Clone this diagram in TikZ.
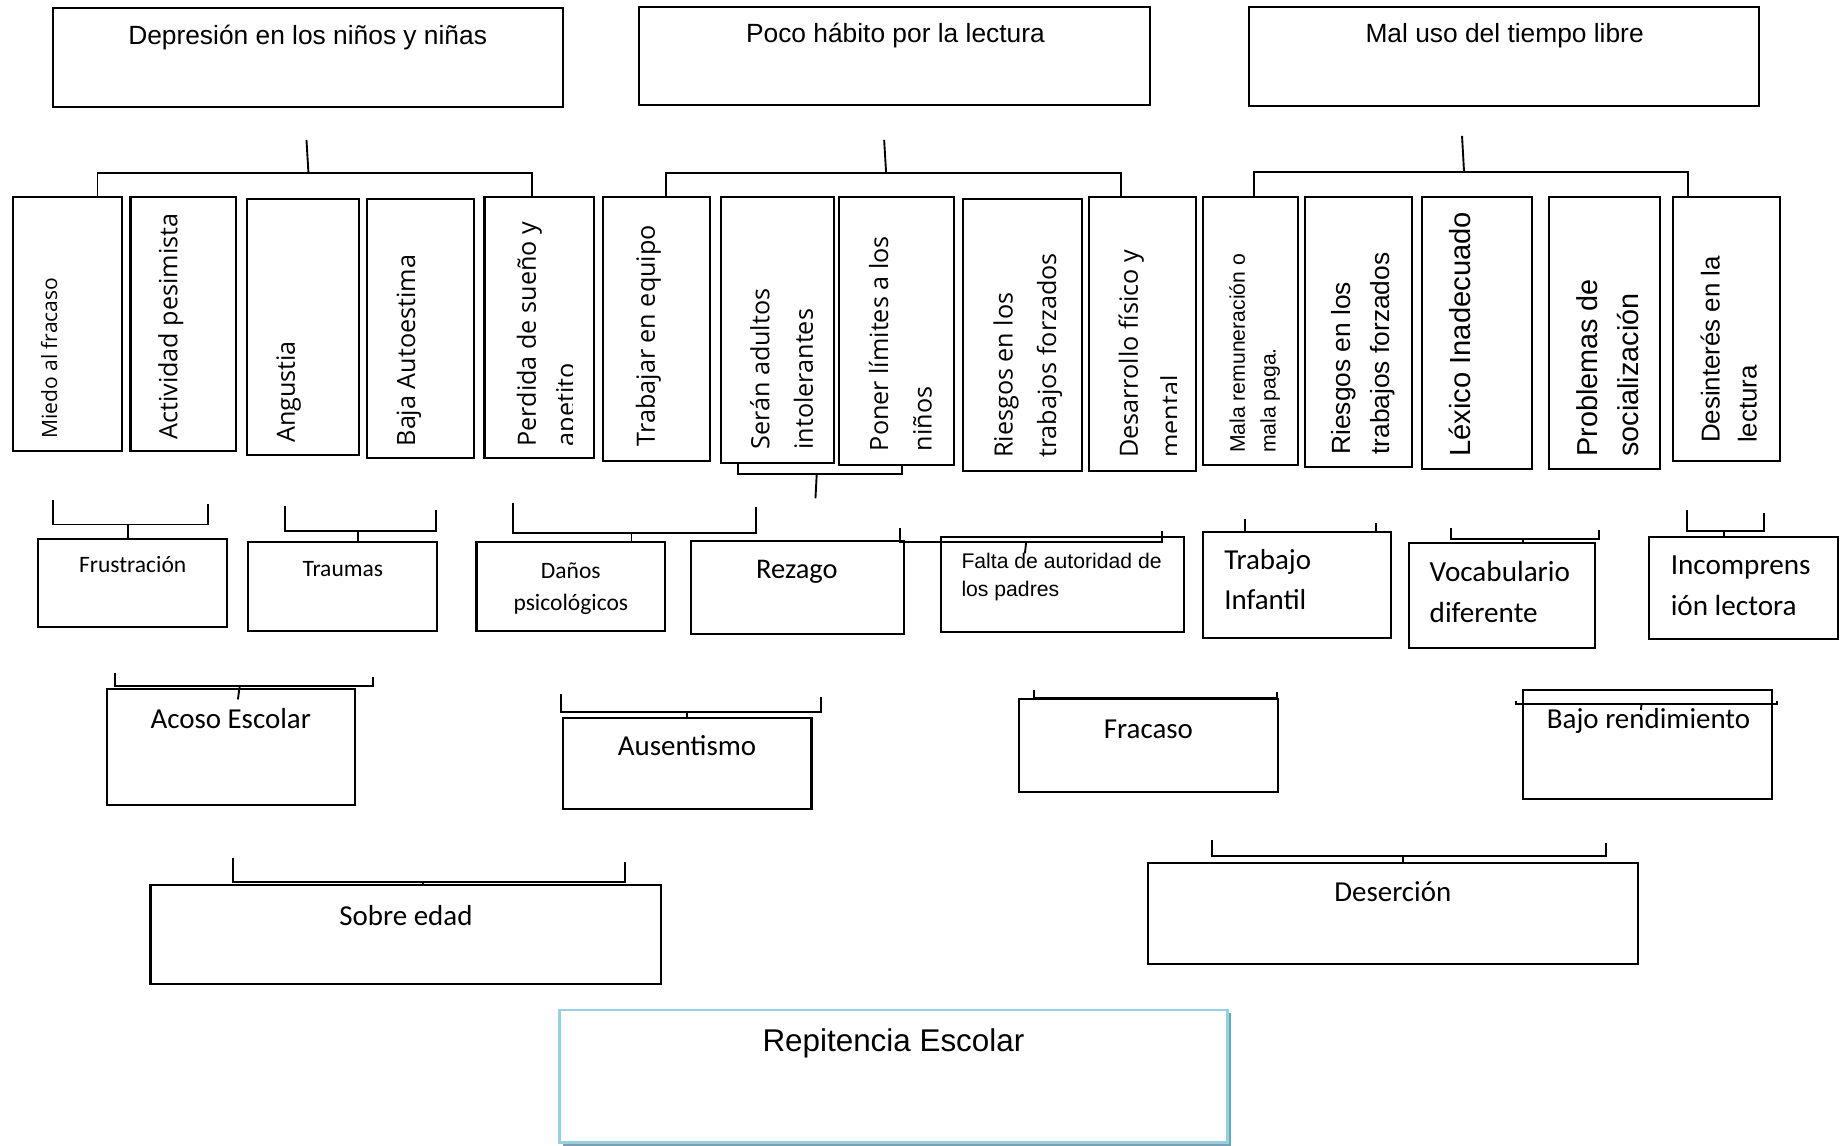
\documentclass[tikz,border=0pt]{standalone}
\usepackage{fontspec}
\setmainfont{Liberation Sans}
\newfontfamily\calibri{Carlito}
\newfontfamily\opensans{Open Sans}
\usetikzlibrary{fit,shadows}
\definecolor{celeste}{RGB}{155,207,223}
\definecolor{sombra}{RGB}{120,160,178}

\begin{document}
\begin{tikzpicture}[x=0.5pt,y=0.5pt,yscale=-1,
    caja/.style={draw, line width=0.9pt, inner sep=0pt},
    linea/.style={line width=0.8pt},
    vert/.style={rotate=90, anchor=west, inner sep=0pt, align=left},
    texto/.style={anchor=base, inner sep=0pt},
    bloque/.style={anchor=west, inner sep=0pt, align=left}]
\useasboundingbox (0,0) rectangle (1568,974);

\node[caja, fit={(44.7,7.1) (478.5,91.3)}] (depresion) {};
\node[caja, fit={(543.4,5.7) (977.7,89.6)}] (habito) {};
\node[caja, fit={(1062.1,5.7) (1496,90.1)}] (tiempo) {};
\node[texto, font=\fontsize{11.2}{13}\selectfont] (depresionT) at (261.6,37.7) {Depresión en los niños y niñas};
\node[texto, font=\fontsize{11.2}{13}\selectfont] (habitoT) at (761.4,36.3) {Poco hábito por la lectura};
\node[texto, font=\fontsize{11.2}{13}\selectfont] (tiempoT) at (1279.4,36.3) {Mal uso del tiempo libre};

\node[caja, fit={(11,167.2) (103.5,383.2)}] (miedo) {};
\node[caja, fit={(111,167.2) (200.6,383.2)}] (actividad) {};
\node[caja, fit={(210,169.2) (305,386.9)}] (angustia) {};
\node[caja, fit={(312,169.2) (403,389.7)}] (baja) {};
\node[caja, fit={(412,167.2) (505,389.7)}] (perdida) {};
\node[caja, fit={(512.9,167.2) (603.7,391.7)}] (equipo) {};
\node[caja, fit={(612.8,167.2) (709.3,393.4)}] (adultos) {};
\node[caja, fit={(713.3,167.2) (811.1,395.4)}] (limites) {};
\node[caja, fit={(818.9,169.2) (920.4,400.2)}] (riesgos) {};
\node[caja, fit={(926.1,167.2) (1017.3,400.2)}] (desarrollo) {};
\node[caja, fit={(1023.2,167.2) (1103.5,395.4)}] (mala) {};
\node[caja, fit={(1109.4,167.2) (1200.9,396.8)}] (riesgosdos) {};
\node[caja, fit={(1209,167.2) (1302.6,398.5)}] (lexico) {};
\node[caja, fit={(1316.9,167.2) (1411.6,398.5)}] (problemas) {};
\node[caja, fit={(1422.4,167.2) (1513.9,392)}] (desinteres) {};

\node[vert, font=\opensans\fontsize{8.95}{12}\selectfont] (miedoT) at (41.8,373.6) {Miedo al fracaso};
\node[vert, font=\opensans\fontsize{10.7}{17}\selectfont] (actividadT) at (145.2,374.2) {Actividad pesimista};
\node[vert, font=\opensans\fontsize{10.7}{17}\selectfont] (angustiaT) at (245.4,377) {Angustia};
\node[vert, font=\opensans\fontsize{10.7}{17}\selectfont] (bajaT) at (347.6,379.9) {Baja Autoestima};
\begin{scope}
\clip (perdida.north west) rectangle (487,389.7);
\node[vert, font=\opensans\fontsize{10.7}{16.5}\selectfont] (perdidaT) at (466.6,379.9) {Perdida de sueño y\\apetito};
\end{scope}
\node[vert, font=\opensans\fontsize{10.7}{17}\selectfont] (equipoT) at (551.2,379.8) {Trabajar en equipo};
\node[vert, font=\opensans\fontsize{10.7}{18.5}\selectfont] (adultosT) at (664.7,382.7) {Serán adultos\\intolerantes};
\node[vert, font=\opensans\fontsize{10.7}{18.5}\selectfont] (limitesT) at (765.5,384) {Poner límites a los\\niños};
\node[vert, font=\opensans\fontsize{10.7}{18.5}\selectfont] (riesgosT) at (874,389.7) {Riesgos en los\\trabajos forzados};
\begin{scope}
\clip (desarrollo.north west) rectangle (1000,400.2);
\node[vert, font=\opensans\fontsize{10.7}{17.6}\selectfont] (desarrolloT) at (977.1,389.7) {Desarrollo físico y\\mental};
\end{scope}
\node[vert, font=\fontsize{9}{13.05}\selectfont] (malaT) at (1066.9,385.5) {Mala remuneración o\\mala paga.};
\node[vert, font=\fontsize{11.2}{16.55}\selectfont] (riesgosdosT) at (1158.9,387) {Riesgos en los\\trabajos forzados};
\node[vert, font=\fontsize{12.4}{15}\selectfont] (lexicoT) at (1241.1,388.8) {Léxico Inadecuado};
\node[vert, font=\fontsize{12.25}{17.45}\selectfont] (problemasT) at (1367.2,388.8) {Problemas de\\socialización};
\node[vert, font=\fontsize{11}{15.7}\selectfont] (desinteresT) at (1470,377) {Desinterés en la\\lectura};

\coordinate (t1) at (260.6,119);
\coordinate (m1) at (262.3,147.4);
\coordinate (t2) at (751.8,119);
\coordinate (m2) at (753.5,147.4);
\coordinate (t3) at (1243.2,115.6);
\coordinate (m3) at (1244.9,146);
\draw[linea] (t1) -- (m1);
\draw[linea] (miedo.north -| 82.9,0) |- (m1) -| (perdida.north -| 452.2,0);
\draw[linea] (t2) -- (m2);
\draw[linea] (equipo.north -| 566,0) |- (m2) -| (desarrollo.north -| 953.5,0);
\draw[linea] (t3) -- (m3);
\draw[linea] (mala.north -| 1066.1,0) |- (m3) -| (desinteres.north -| 1435,0);

\coordinate (am) at (694.5,402.8);
\coordinate (af) at (693.4,423.7);
\draw[linea] (adultos.south -| 627.2,0) |- (am) -| (limites.south -| 766.7,0);
\draw[linea] (am) -- (af);

\node[caja, fit={(32.6,458) (193.3,533)}] (frustracion) {};
\node[caja, fit={(211.2,461.2) (371.9,536.3)}] (traumas) {};
\node[caja, fit={(405.2,461.2) (565.6,536.3)}] (danos) {};
\node[caja, fit={(587.5,459.8) (768.5,539.1)}] (rezago) {};
\node[caja, fit={(800,456.4) (1007.1,537.1)}] (falta) {};
\node[caja, fit={(1023.2,452.1) (1182.8,542.2)}] (trabajo) {};
\node[caja, fit={(1197.8,462) (1356.4,550.7)}] (vocabulario) {};
\node[caja, fit={(1402.1,456.3) (1562.8,543.4)}] (incomprension) {};

\node[texto, font=\calibri\fontsize{10}{12}\selectfont] (frustracionT) at (112.8,487) {Frustración};
\node[texto, font=\calibri\fontsize{10}{12}\selectfont] (traumasT) at (291.5,490.4) {Traumas};
\node[inner sep=0pt, align=center, font=\calibri\fontsize{10}{13.9}\selectfont] (danosT) at (485.4,500.5) {Daños\\psicológicos};
\node[texto, font=\calibri\fontsize{12.1}{14}\selectfont] (rezagoT) at (677.6,491.8) {Rezago};
\node[bloque, font=\fontsize{9}{11.75}\selectfont] (faltaT) at (817.2,490.5) {Falta de autoridad de\\los padres};
\node[bloque, font=\calibri\fontsize{12.3}{17}\selectfont] (trabajoT) at (1040.6,493.2) {Trabajo\\Infantil};
\node[bloque, font=\calibri\fontsize{12.4}{17.7}\selectfont] (vocabularioT) at (1215.3,503.3) {Vocabulario\\diferente};
\node[bloque, font=\calibri\fontsize{12.4}{17.3}\selectfont] (incomprensionT) at (1420.3,498.1) {Incomprens\\ión lectora};

\coordinate (frI) at (44.7,425);
\coordinate (frM) at (108.6,446);
\coordinate (frD) at (177.2,428.6);
\draw[linea] (frI) |- (frM) -| (frD);
\draw[linea] (frM) -- (frM |- frustracion.north);
\coordinate (trI) at (242,430.3);
\coordinate (trM) at (304.6,451.5);
\coordinate (trD) at (370.9,433.7);
\draw[linea] (trI) |- (trM) -| (trD);
\draw[linea] (trM) -- (trM |- traumas.north);
\coordinate (daI) at (436.4,427.4);
\coordinate (daM) at (537,453.5);
\coordinate (daD) at (643,430.9);
\draw[linea] (daI) |- (daM) -| (daD);
\draw[linea] (daM) -- (daM |- danos.north);
\coordinate (faI) at (765,449.3);
\coordinate (faM) at (872.6,460.6);
\coordinate (faD) at (987.7,451.3);
\coordinate (faF) at (871.5,470.5);
\draw[linea] (faI) |- (faM) -| (faD);
\draw[linea] (faM) -- (faF);
\draw[linea] (1058.8,441.6) -- (trabajo.north -| 1058.8,0);
\draw[linea] (1169.9,444.4) -- (trabajo.north -| 1169.9,0);
\coordinate (voI) at (1234.1,449.3);
\coordinate (voM) at (1295.2,458.3);
\coordinate (voD) at (1359.9,450.7);
\draw[linea] (voI) |- (voM) -| (voD);
\draw[linea] (voM) -- (voM |- vocabulario.north);
\coordinate (inI) at (1434.3,433.7);
\coordinate (inM) at (1465.6,451.2);
\coordinate (inD) at (1499.9,436.5);
\draw[linea] (inI) |- (inM) -| (inD);
\draw[linea] (inM) -- (inM |- incomprension.north);

\node[caja, fit={(90.8,586.2) (301.6,684.5)}] (acoso) {};
\node[caja, fit={(478.5,610.3) (690,688.2)}] (ausentismo) {};
\node[caja, fit={(866.2,594.7) (1086.7,673.2)}] (fracaso) {};
\node[caja, fit={(1295.2,586.7) (1506.9,679.7)}] (bajo) {};
\node[texto, font=\calibri\fontsize{12.3}{14}\selectfont] (acosoT) at (196.2,619.3) {Acoso Escolar};
\node[texto, font=\calibri\fontsize{12.3}{14}\selectfont] (ausentismoT) at (584.2,642) {Ausentismo};
\node[texto, font=\calibri\fontsize{12.3}{14}\selectfont] (fracasoT) at (976.5,627.8) {Fracaso};
\node[texto, font=\calibri\fontsize{12.3}{14}\selectfont] (bajoT) at (1401.8,619.3) {Bajo rendimiento};

\coordinate (acI) at (97.5,572.5);
\coordinate (acM) at (203.8,583.6);
\coordinate (acD) at (317,575.4);
\coordinate (acF) at (202.3,594.7);
\draw[linea] (acI) |- (acM) -| (acD);
\draw[linea] (acM) -- (acF);
\coordinate (auI) at (477.4,590.1);
\coordinate (auM) at (584.2,605.2);
\coordinate (auD) at (697.8,593);
\draw[linea] (auI) |- (auM) -| (auD);
\draw[linea] (auM) -- (auM |- ausentismo.north);
\coordinate (fcI) at (879.3,586.7);
\coordinate (fcD) at (1085.7,588.2);
\draw[linea] (fcI) |- (fracaso.north) -| (fcD);
\coordinate (bjI) at (1289.3,595.8);
\coordinate (bjM) at (1395.8,598.9);
\coordinate (bjD) at (1511,595.8);
\coordinate (bjF) at (1395.3,603.7);
\draw[linea] (bjI) |- (bjM) -| (bjD);
\draw[linea] (bjM) -- (bjF);

\node[caja, fit={(128,752.6) (562.4,837)}] (sobreedad) {};
\node[caja, fit={(976,733.6) (1392.6,819.7)}] (desercion) {};
\node[texto, font=\calibri\fontsize{12.3}{14}\selectfont] (sobreedadT) at (345.2,786.6) {Sobre edad};
\node[texto, font=\calibri\fontsize{12.3}{14}\selectfont] (desercionT) at (1184.3,766.7) {Deserción};
\coordinate (soI) at (198.3,729.3);
\coordinate (soM) at (360,750.3);
\coordinate (soD) at (531.5,732.7);
\draw[linea] (soI) |- (soM) -| (soD);
\draw[linea] (soM) -- (soM |- sobreedad.north);
\coordinate (deI) at (1030.7,714.3);
\coordinate (deM) at (1193.1,727.9);
\coordinate (deD) at (1365.6,716.6);
\draw[linea] (deI) |- (deM) -| (deD);
\draw[linea] (deM) -- (deM |- desercion.north);

\node[caja, draw=celeste, fill=white, line width=1.2pt, drop shadow={shadow xshift=1.4pt, shadow yshift=-1.4pt, fill=sombra, opacity=1}, fit={(475.6,858.8) (1043.7,971.6)}] (repitencia) {};
\node[texto, font=\fontsize{13.35}{15}\selectfont] (repitenciaT) at (759.7,893.7) {Repitencia Escolar};
\end{tikzpicture}
\end{document}
